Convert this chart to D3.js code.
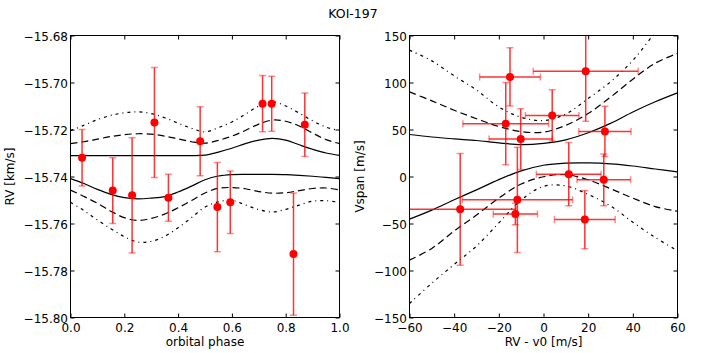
<!DOCTYPE html>
<html>
<head>
<meta charset="utf-8">
<script src="https://cdn.jsdelivr.net/npm/d3@7/dist/d3.min.js"></script>
<style>
  body { margin: 0; background: #fff; }
  svg { display: block; font-family: 'DejaVu Sans', sans-serif; }
</style>
</head>
<body>
<div id="chart"></div>
<script>
// left panel: RV against orbital phase
const phaseGrid = [0, 0.05, 0.1, 0.15, 0.2, 0.25, 0.3, 0.35, 0.4, 0.45, 0.5,
  0.55, 0.6, 0.65, 0.7, 0.75, 0.8, 0.85, 0.9, 0.95, 1];
const rvUpperDashDot = [-15.7205, -15.7182, -15.7158, -15.7140, -15.7129, -15.7125, -15.7132, -15.7150, -15.7173, -15.7195, -15.7210,
  -15.7192, -15.7168, -15.7135, -15.7100, -15.7082, -15.7100, -15.7130, -15.7163, -15.7190, -15.7205];
const rvUpperDashed = [-15.7260, -15.7252, -15.7241, -15.7230, -15.7222, -15.7218, -15.7220, -15.7228, -15.7240, -15.7252, -15.7258,
  -15.7246, -15.7228, -15.7204, -15.7177, -15.7160, -15.7165, -15.7185, -15.7215, -15.7243, -15.7260];
const rvUpperSolid = [-15.7311, -15.7311, -15.7311, -15.7311, -15.7311, -15.7311, -15.7311, -15.7311, -15.7311, -15.7311, -15.7309,
  -15.7296, -15.7280, -15.7260, -15.7245, -15.7238, -15.7245, -15.7265, -15.7284, -15.7300, -15.7310];
const rvLowerSolid = [-15.7409, -15.7430, -15.7455, -15.7476, -15.7490, -15.7495, -15.7492, -15.7486, -15.7466, -15.7441, -15.7414,
  -15.7398, -15.7392, -15.7391, -15.7391, -15.7391, -15.7392, -15.7395, -15.7399, -15.7404, -15.7409];
const rvLowerDashed = [-15.7458, -15.7485, -15.7514, -15.7548, -15.7575, -15.7587, -15.7578, -15.7560, -15.7533, -15.7502, -15.7470,
  -15.7450, -15.7447, -15.7452, -15.7464, -15.7471, -15.7469, -15.7460, -15.7451, -15.7449, -15.7457];
const rvLowerDashDot = [-15.7510, -15.7545, -15.7585, -15.7622, -15.7656, -15.7679, -15.7676, -15.7655, -15.7618, -15.7575, -15.7530,
  -15.7508, -15.7501, -15.7521, -15.7541, -15.7551, -15.7540, -15.7522, -15.7505, -15.7503, -15.7510];

const rvPhase = [0.043, 0.157, 0.229, 0.312, 0.364, 0.482, 0.546, 0.594, 0.714, 0.748, 0.829, 0.871];
const rvValue = [-15.732, -15.746, -15.748, -15.717, -15.749, -15.725, -15.753, -15.751, -15.709, -15.709, -15.773, -15.718];
const rvError = [0.012, 0.014, 0.0245, 0.0234, 0.010, 0.0147, 0.019, 0.0133, 0.012, 0.0117, 0.026, 0.0135];

const phaseTicks = [0, 0.2, 0.4, 0.6, 0.8, 1];
const rvTicks = [-15.80, -15.78, -15.76, -15.74, -15.72, -15.70, -15.68];

// right panel: Vspan against RV - v0
const dvGrid = [-60, -50, -40, -30, -20, -10, 0, 10, 20, 30, 40, 50, 60];
const spanUpperDashDot = [134.4, 123, 107, 92, 74, 63, 59.5, 66.5, 83, 100.7, 123.5, 153, 180];
const spanUpperDashed = [90, 80.5, 70.5, 61.5, 53.2, 47.8, 47.2, 54.5, 67, 84.4, 103.5, 120.5, 131];
const spanUpperSolid = [44.7, 42, 40, 38.3, 35.7, 34, 35.3, 39, 46.5, 56.5, 68.6, 79.5, 89];
const spanLowerSolid = [-45.4, -35.8, -24.8, -14.2, -3.3, 6, 12, 14.3, 14.5, 13.5, 11.2, 8, 4.9];
const spanLowerDashed = [-89, -76.5, -58, -41, -23, -8, -0.3, 2, -3.5, -13, -23, -32, -37];
const spanLowerDashDot = [-135.1, -113.5, -93.5, -74, -49.4, -25, -10.5, -10, -19.1, -31.3, -48.6, -64.8, -79];

const bisDv = [-15.0, -16.9, -10.2, 3.9, 18.9, 27.5, 11.3, 27.0, -37.3, -11.7, -12.6, 18.5];
const bisDvErr = [13.6, 19.2, 14.2, 12.0, 23.5, 11.7, 14.5, 12.0, 24.9, 24.7, 9.9, 13.6];
const bisSpan = [105.9, 56.2, 39.8, 65.0, 111.9, 48.0, 2.5, -3.5, -34.9, -24.8, -39.8, -45.8];
const bisSpanErr = [31, 43.7, 32.4, 27.2, 53, 26.7, 33.6, 27.5, 59.5, 56, 11.4, 31];

const dvTicks = [-60, -40, -20, 0, 20, 40, 60];
const spanTicks = [-150, -100, -50, 0, 50, 100, 150];

const width = 706;
const height = 353;
const tickLen = 4;
const capHalf = 3.5;
const dashStyles = { solid: null, dashed: '7,4', dashdot: '3,4,1,4' };

class Panel {
  constructor (svg, opts) {
    this.svg = svg;
    this.opts = opts;
  }

  draw () {
    this._prepareScales();
    this._createClip();
    this._drawCurves();
    this._drawPoints();
    this._drawAxes();
    this._drawFrame();
    this._drawLabels();
    return this;
  }

  _prepareScales () {
    const o = this.opts;
    this.x = d3.scaleLinear().domain(o.xDomain).range([o.box.left, o.box.right]);
    this.y = d3.scaleLinear().domain(o.yDomain).range([o.box.bottom, o.box.top]);
  }

  _createClip () {
    const b = this.opts.box;
    this.svg.append('clipPath')
      .attr('id', this.opts.id + '-clip')
      .append('rect')
      .attr('x', b.left)
      .attr('y', b.top)
      .attr('width', b.right - b.left)
      .attr('height', b.bottom - b.top);
    this.layer = this.svg.append('g')
      .attr('clip-path', `url(#${this.opts.id}-clip)`);
  }

  _drawCurves () {
    const line = d3.line()
      .x(d => this.x(d[0]))
      .y(d => this.y(d[1]))
      .curve(d3.curveCatmullRom.alpha(0.5));

    this.opts.curves.forEach(c => {
      this.layer.append('path')
        .datum(c.xs.map((v, i) => [v, c.ys[i]]))
        .attr('d', line)
        .attr('fill', 'none')
        .attr('stroke', 'black')
        .attr('stroke-width', 1.2)
        .attr('stroke-dasharray', dashStyles[c.style]);
    });
  }

  _drawPoints () {
    const p = this.opts.points;
    const bars = this.layer.append('g')
      .attr('stroke', 'red')
      .attr('stroke-width', 1.5);

    p.x.forEach((xv, i) => {
      const cx = this.x(xv);
      const cy = this.y(p.y[i]);
      const y0 = this.y(p.y[i] - p.yErr[i]);
      const y1 = this.y(p.y[i] + p.yErr[i]);
      bars.append('line').attr('x1', cx).attr('x2', cx).attr('y1', y0).attr('y2', y1)
        .attr('stroke-opacity', 0.8);
      [y0, y1].forEach(yy => {
        bars.append('line').attr('x1', cx - capHalf).attr('x2', cx + capHalf)
          .attr('y1', yy).attr('y2', yy).attr('stroke-opacity', 0.45);
      });

      if (p.xErr) {
        const x0 = this.x(xv - p.xErr[i]);
        const x1 = this.x(xv + p.xErr[i]);
        bars.append('line').attr('x1', x0).attr('x2', x1).attr('y1', cy).attr('y2', cy)
          .attr('stroke-opacity', 0.8);
        [x0, x1].forEach(xx => {
          bars.append('line').attr('x1', xx).attr('x2', xx)
            .attr('y1', cy - capHalf).attr('y2', cy + capHalf).attr('stroke-opacity', 0.45);
        });
      }
    });

    this.layer.append('g')
      .selectAll('circle')
      .data(p.x)
      .join('circle')
      .attr('cx', d => this.x(d))
      .attr('cy', (d, i) => this.y(p.y[i]))
      .attr('r', 4)
      .attr('fill', 'red');
  }

  _drawAxes () {
    const o = this.opts;
    const b = o.box;
    const axes = [
      [d3.axisBottom(this.x).tickValues(o.xTicks).tickFormat(o.xFormat).tickPadding(5.5), `translate(0,${b.bottom})`],
      [d3.axisTop(this.x).tickValues(o.xTicks).tickFormat(''), `translate(0,${b.top})`],
      [d3.axisLeft(this.y).tickValues(o.yTicks).tickFormat(o.yFormat).tickPadding(2.5), `translate(${b.left},0)`],
      [d3.axisRight(this.y).tickValues(o.yTicks).tickFormat(''), `translate(${b.right},0)`]
    ];
    axes.forEach(([axis, tr], k) => {
      const g = this.svg.append('g')
        .attr('transform', tr)
        .call(axis.tickSize(-tickLen).tickSizeOuter(0));
      g.select('.domain').remove();
      g.selectAll('.tick line').attr('stroke', 'black');
      g.selectAll('text')
        .attr('fill', 'black')
        .attr('font-size', '12px')
        .attr('font-family', "'DejaVu Sans', sans-serif");
      if (k === 2) g.selectAll('text').attr('dy', '0.4em');
    });
  }

  _drawFrame () {
    const b = this.opts.box;
    this.svg.append('rect')
      .attr('x', b.left)
      .attr('y', b.top)
      .attr('width', b.right - b.left)
      .attr('height', b.bottom - b.top)
      .attr('fill', 'none')
      .attr('stroke', 'black')
      .attr('stroke-width', 1);
  }

  _drawLabels () {
    const o = this.opts;
    const b = o.box;
    this.svg.append('text')
      .attr('x', (b.left + b.right) / 2)
      .attr('y', 346)
      .attr('text-anchor', 'middle')
      .attr('font-size', '12px')
      .text(o.xLabel);
    this.svg.append('text')
      .attr('transform', `translate(${o.yLabelX},${(b.top + b.bottom) / 2}) rotate(-90)`)
      .attr('text-anchor', 'middle')
      .attr('font-size', '12px')
      .text(o.yLabel);
  }
}

const svg = d3.select('#chart').append('svg')
  .attr('width', width)
  .attr('height', height);

svg.append('text')
  .attr('x', 353)
  .attr('y', 17.5)
  .attr('text-anchor', 'middle')
  .attr('font-size', '12.5px')
  .text('KOI-197');

new Panel(svg, {
  id: 'rv',
  box: { left: 70.5, right: 339.5, top: 35.5, bottom: 317.5 },
  xDomain: [0, 1],
  yDomain: [-15.80, -15.68],
  xTicks: phaseTicks,
  yTicks: rvTicks,
  xFormat: d3.format('.1f'),
  yFormat: d3.format('.2f'),
  xLabel: 'orbital phase',
  yLabel: 'RV [km/s]',
  yLabelX: 14,
  curves: [
    { xs: phaseGrid, ys: rvUpperDashDot, style: 'dashdot' },
    { xs: phaseGrid, ys: rvUpperDashed, style: 'dashed' },
    { xs: phaseGrid, ys: rvUpperSolid, style: 'solid' },
    { xs: phaseGrid, ys: rvLowerSolid, style: 'solid' },
    { xs: phaseGrid, ys: rvLowerDashed, style: 'dashed' },
    { xs: phaseGrid, ys: rvLowerDashDot, style: 'dashdot' }
  ],
  points: { x: rvPhase, y: rvValue, yErr: rvError }
}).draw();

new Panel(svg, {
  id: 'span',
  box: { left: 409.5, right: 677.5, top: 35.5, bottom: 317.5 },
  xDomain: [-60, 60],
  yDomain: [-150, 150],
  xTicks: dvTicks,
  yTicks: spanTicks,
  xFormat: d3.format('d'),
  yFormat: d3.format('d'),
  xLabel: 'RV - v0 [m/s]',
  yLabel: 'Vspan [m/s]',
  yLabelX: 364,
  curves: [
    { xs: dvGrid, ys: spanUpperDashDot, style: 'dashdot' },
    { xs: dvGrid, ys: spanUpperDashed, style: 'dashed' },
    { xs: dvGrid, ys: spanUpperSolid, style: 'solid' },
    { xs: dvGrid, ys: spanLowerSolid, style: 'solid' },
    { xs: dvGrid, ys: spanLowerDashed, style: 'dashed' },
    { xs: dvGrid, ys: spanLowerDashDot, style: 'dashdot' }
  ],
  points: { x: bisDv, xErr: bisDvErr, y: bisSpan, yErr: bisSpanErr }
}).draw();
</script>
</body>
</html>
